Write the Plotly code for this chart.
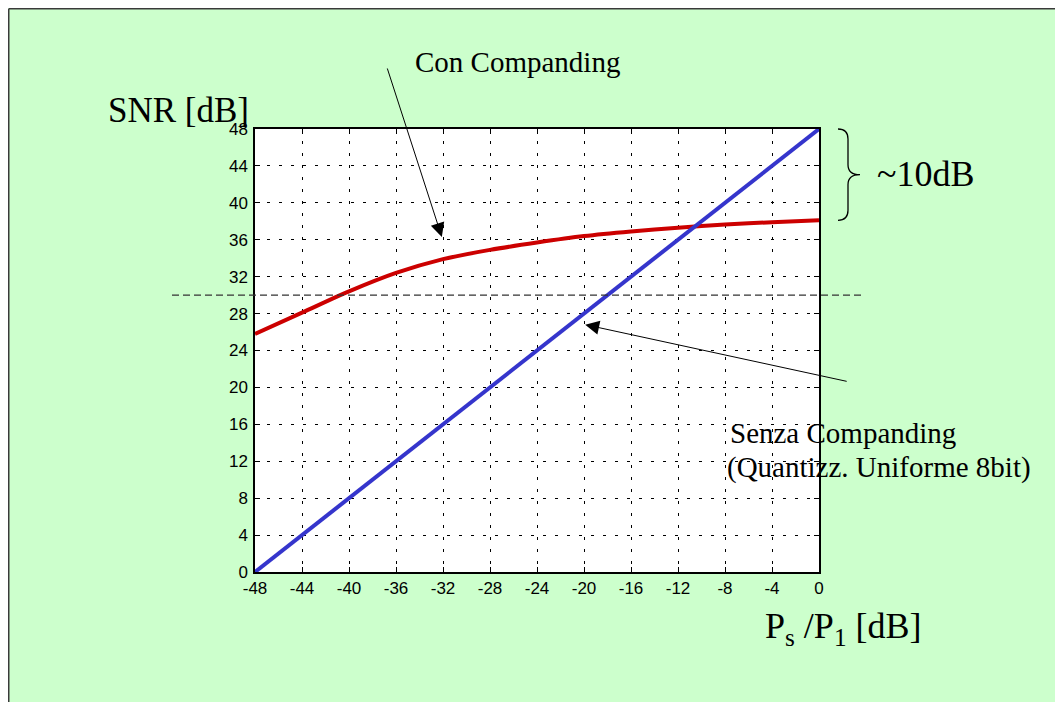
import plotly.graph_objects as go

# ---------------- data ----------------
ps_db = [-48, -44, -40, -36, -32, -28, -24, -20, -16, -12, -8, -4, 0]
snr_uniform = [0, 4, 8, 12, 16, 20, 24, 28, 32, 36, 40, 44, 48]
snr_companding = [25.8, 28.1, 30.4, 32.4, 33.9, 34.9, 35.7, 36.4, 36.9, 37.3, 37.65, 37.9, 38.1]
x_ticks = [-48, -44, -40, -36, -32, -28, -24, -20, -16, -12, -8, -4, 0]
y_ticks = [0, 4, 8, 12, 16, 20, 24, 28, 32, 36, 40, 44, 48]
threshold_db = 30

X_RANGE = [-48, 0]
Y_RANGE = [0, 48]

# ---------------- layout geometry ----------------
# page is 1063x702; the figure sits at the page's default 8px body margin
OFF = 8
W, H = 1063 - OFF, 702 - OFF
PL, PT, PR, PB = 255, 129, 819, 572  # plot area in page pixels
L, T = PL - OFF, PT - OFF
R = W - L - (PR - PL)
B = H - T - (PB - PT)
PW = PR - PL
PH = PB - PT


def px_x(p):
    return (p - PL) / PW


def px_y(p):
    return (PB - p) / PH


def yval_paper(v):
    return (v - Y_RANGE[0]) / (Y_RANGE[1] - Y_RANGE[0])


SERIF = "Liberation Serif, Times New Roman, serif"
SANS = "Liberation Sans, Arial, sans-serif"

fig = go.Figure()
fig.add_trace(go.Scatter(x=ps_db, y=snr_companding, mode="lines",
                         line=dict(color="#CC0000", width=4, shape="spline", smoothing=0.8),
                         name="Con Companding", showlegend=False))
fig.add_trace(go.Scatter(x=ps_db, y=snr_uniform, mode="lines",
                         line=dict(color="#3535CC", width=4),
                         name="Senza Companding", showlegend=False))

axis_common = dict(showline=True, linecolor="black", linewidth=1.5, mirror="ticks",
                   ticks="inside", ticklen=5, tickcolor="black", tickwidth=1,
                   showgrid=True, gridcolor="black", gridwidth=1, griddash="3px,9px",
                   zeroline=False, tickfont=dict(family=SANS, size=17, color="black"))

fig.update_xaxes(range=X_RANGE, tickvals=x_ticks, ticktext=[str(v) for v in x_ticks], **axis_common)
fig.update_yaxes(range=Y_RANGE, tickvals=y_ticks, ticktext=[str(v) for v in y_ticks],
                 ticklabelstandoff=2, **axis_common)

shapes = []
# frame border (top and left edges)
shapes.append(dict(type="line", xref="paper", yref="paper", x0=px_x(OFF + 0.75), x1=px_x(1080),
                   y0=px_y(OFF + 0.75), y1=px_y(OFF + 0.75), line=dict(color="#3a3a3a", width=1.5)))
shapes.append(dict(type="line", xref="paper", yref="paper", x0=px_x(OFF + 0.75), x1=px_x(OFF + 0.75),
                   y0=px_y(OFF + 0.75), y1=px_y(720), line=dict(color="#3a3a3a", width=1.5)))

# dashed 30 dB reference line, extending beyond the axes
ty = yval_paper(threshold_db)
shapes.append(dict(type="line", xref="paper", yref="paper", x0=px_x(172), x1=px_x(865),
                   y0=ty, y1=ty, line=dict(color="#333333", width=1.4, dash="7px,4px")))

# brace between max uniform SNR and max companding SNR
yt = yval_paper(max(snr_uniform))
yb = yval_paper(snr_companding[-1])
ym = (yt + yb) / 2
dy = px_y(0) - px_y(10)  # 10 px in paper units
xa, xb, xc = px_x(838), px_x(848), px_x(860)
path = (f"M {xa},{yt} Q {xb},{yt} {xb},{yt - dy} "
        f"L {xb},{ym + dy} Q {xb},{ym} {xc},{ym} "
        f"Q {xb},{ym} {xb},{ym - dy} "
        f"L {xb},{yb + dy} Q {xb},{yb} {xa},{yb}")
shapes.append(dict(type="path", xref="paper", yref="paper", path=path,
                   line=dict(color="black", width=1.3)))

annotations = [
    dict(text="SNR [dB]", xref="paper", yref="paper", x=px_x(251), y=px_y(111),
         xanchor="right", yanchor="middle", showarrow=False,
         font=dict(family=SERIF, size=35, color="black")),
    dict(text="Con Companding", xref="paper", yref="paper", x=px_x(413), y=px_y(62),
         xanchor="left", yanchor="middle", showarrow=False,
         font=dict(family=SERIF, size=29, color="black")),
    dict(text="~10dB", xref="paper", yref="paper", x=px_x(875), y=px_y(174),
         xanchor="left", yanchor="middle", showarrow=False,
         font=dict(family=SERIF, size=36, color="black")),
    dict(text="Senza Companding", xref="paper", yref="paper", x=px_x(728), y=px_y(433),
         xanchor="left", yanchor="middle", showarrow=False,
         font=dict(family=SERIF, size=29, color="black")),
    dict(text="(Quantizz. Uniforme 8bit)", xref="paper", yref="paper", x=px_x(725), y=px_y(467),
         xanchor="left", yanchor="middle", showarrow=False,
         font=dict(family=SERIF, size=29, color="black")),
    dict(text="P<sub>s</sub> /P<sub>1</sub> [dB]", xref="paper", yref="paper", x=px_x(763), y=px_y(628),
         xanchor="left", yanchor="middle", showarrow=False,
         font=dict(family=SERIF, size=36, color="black")),
    # arrows
    dict(text="", x=-32.1, y=36.3, xref="x", yref="y", showarrow=True,
         ax=-55, ay=-170, axref="pixel", ayref="pixel",
         arrowhead=2, arrowsize=2.8, arrowwidth=1, arrowcolor="black", standoff=0),
    dict(text="", x=-19.9, y=26.8, xref="x", yref="y", showarrow=True,
         ax=263, ay=57, axref="pixel", ayref="pixel",
         arrowhead=2, arrowsize=2.8, arrowwidth=1, arrowcolor="black", standoff=0),
]

fig.update_layout(
    width=W, height=H,
    margin=dict(l=L, r=R, t=T, b=B, pad=0),
    paper_bgcolor="#CCFFCC",
    plot_bgcolor="white",
    showlegend=False,
    shapes=shapes,
    annotations=annotations,
)

fig.write_html("out.html")
